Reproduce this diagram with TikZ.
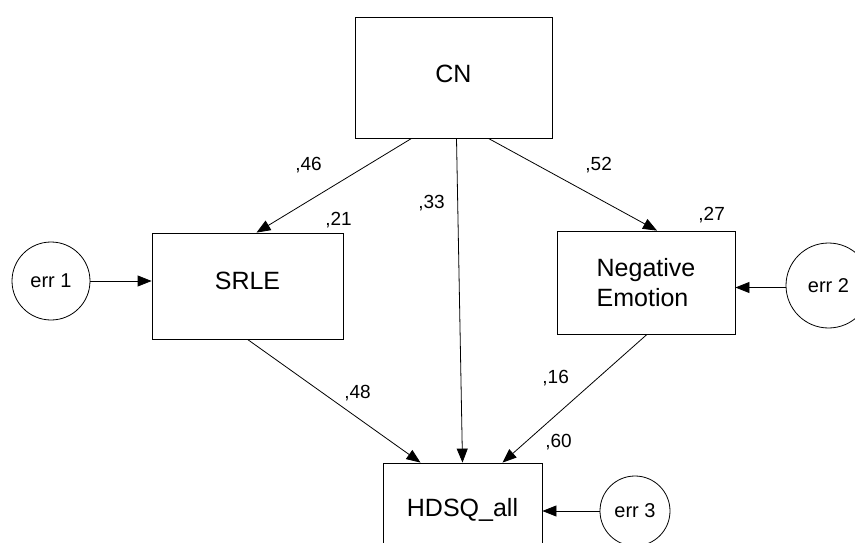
\documentclass[tikz,border=0pt]{standalone}
\usepackage{fontspec}
\setmainfont{Liberation Sans}
\usepackage{tikz}
\usetikzlibrary{arrows.meta,positioning,calc}

\begin{document}
\begin{tikzpicture}[x=1pt,y=-1pt,>={Triangle[length=14pt,width=11pt]},line width=0.8pt,
 varbox/.style={draw,inner sep=0pt,font=\fontsize{25}{30}\selectfont},
 errcirc/.style={draw,circle,inner sep=0pt,font=\fontsize{20}{24}\selectfont},
 coef/.style={inner sep=0pt,anchor=base west,font=\fontsize{19}{22}\selectfont}]
 \useasboundingbox (0,0) rectangle (855,543);
 \node[varbox,minimum width=197pt,minimum height=121pt,text depth=7pt] (cn) at (453.5,77.5) {CN};
 \node[varbox,minimum width=191pt,minimum height=106pt,text depth=10pt] (srle) at (247.5,286) {SRLE};
 \node[varbox,minimum width=178pt,minimum height=103pt,align=left] (negemo) at (646,282.5) {Negative\\Emotion};
 \node[varbox,minimum width=159pt,minimum height=94pt] (hdsq) at (462.5,510) {HDSQ\_all};
 \node[errcirc,minimum size=78pt] (err1) at (51,281) {err 1};
 \node[errcirc,minimum size=85pt] (err2) at (828.5,285.5) {err 2};
 \node[errcirc,minimum size=70pt] (err3) at (635,511) {err 3};
 % paths
 \draw[->] ([xshift=57pt]cn.south west) -- ([xshift=9pt]srle.north);
 \draw[->] ([xshift=-64pt]cn.south east) -- ([xshift=11pt]negemo.north);
 \draw[->] ([xshift=3pt]cn.south) -- (hdsq.north);
 \draw[->] (srle.south) -- ([xshift=-42pt]hdsq.north);
 \draw[->] ([xshift=1pt]negemo.south) -- ([xshift=40pt]hdsq.north);
 % error terms
 \draw[->] (err1.east) -- (err1.east -| srle.west);
 \draw[->] ([yshift=-2pt]err2.west) -- ([yshift=-2pt]err2.west -| negemo.east);
 \draw[->] (err3.west) -- (err3.west -| hdsq.east);
 % estimates
 \node[coef] (c46) at (295,170) {,46};
 \node[coef] (c21) at (325,225) {,21};
 \node[coef] (c33) at (418,208) {,33};
 \node[coef] (c52) at (585,170) {,52};
 \node[coef] (c27) at (698,220) {,27};
 \node[coef] (c48) at (344,398) {,48};
 \node[coef] (c16) at (542,383) {,16};
 \node[coef] (c60) at (545,447) {,60};
\end{tikzpicture}
\end{document}
